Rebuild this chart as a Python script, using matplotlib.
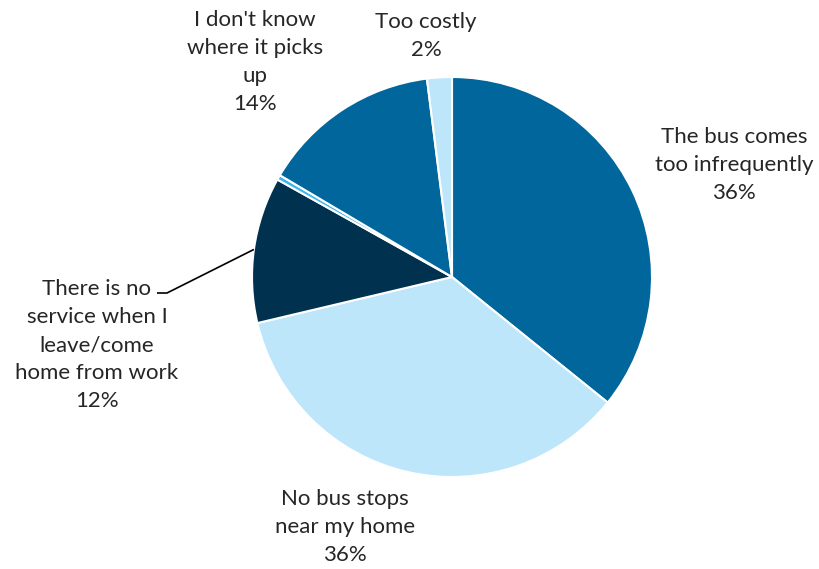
import matplotlib.pyplot as plt
import numpy as np

categories = [
    "The bus comes\ntoo infrequently",
    "No bus stops\nnear my home",
    "There is no\nservice when I\nleave/come\nhome from work",
    "Other",
    "I don't know\nwhere it picks\nup",
    "Too costly",
]
shares = [35.8, 35.5, 11.8, 0.4, 14.5, 2.0]
shown_pct = ["36%", "36%", "12%", None, "14%", "2%"]

colors = ["#00669C", "#BDE6FB", "#00324F", "#3DB4F0", "#00669C", "#BDE6FB"]

# label centres in pie radius units
label_xy = [(1.41, 0.56), (-0.535, -1.25), (-1.775, -0.34), None, (-0.985, 1.075), (-0.13, 1.205)]

plt.rcParams['font.family'] = ['Lato', 'DejaVu Sans']

fig = plt.figure(figsize=(8.19, 5.69), dpi=100)
ax = fig.add_axes([252 / 819, 92 / 569, 400 / 819, 400 / 569])

wedges, _ = ax.pie(shares, colors=colors, startangle=90, counterclock=False,
                   wedgeprops=dict(edgecolor="white", linewidth=1.5))

for i, w in enumerate(wedges):
    if label_xy[i] is None:
        continue
    x, y = label_xy[i]
    ax.text(x, y, categories[i] + "\n" + shown_pct[i], ha="center", va="center",
            fontsize=16, color="#262626", linespacing=1.5)

# leader line for the 12% label
w = wedges[2]
ang = np.deg2rad((w.theta1 + w.theta2) / 2)
ax.plot([-1.475, -1.425, np.cos(ang)], [-0.08, -0.08, np.sin(ang)],
        color="black", lw=1.2, solid_capstyle="butt", clip_on=False)

ax.set_xlim(-1, 1)
ax.set_ylim(-1, 1)
ax.set_aspect("equal")
ax.axis("off")

fig.savefig("out.png", dpi=100)
